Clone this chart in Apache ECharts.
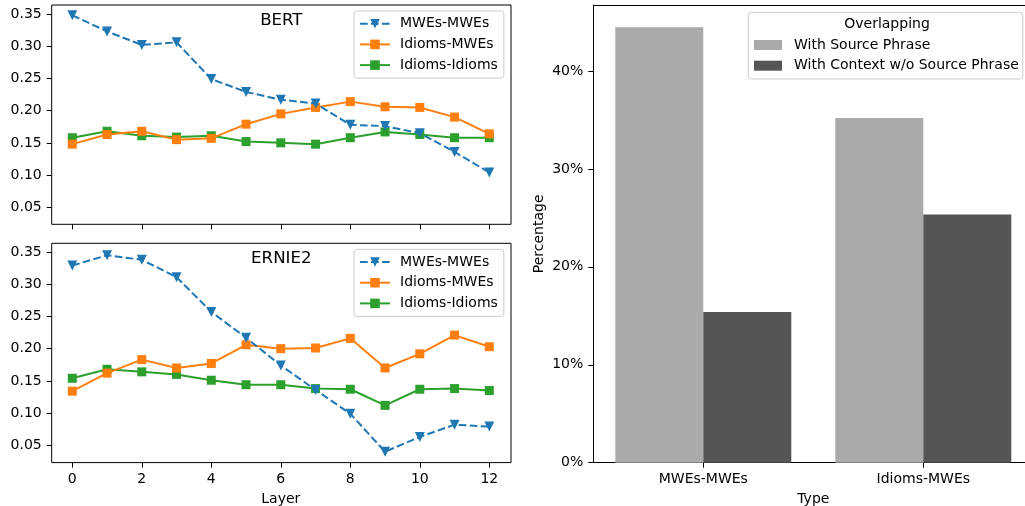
<!DOCTYPE html>
<html>
<head>
<meta charset="utf-8">
<script src="https://cdn.jsdelivr.net/npm/echarts@6/dist/echarts.min.js"></script>
<style>html,body{margin:0;padding:0;background:#fff;}#c{width:1025px;height:506px;}</style>
</head>
<body>
<div id="c"></div>
<script>
// ---- data ----
const layers = [0, 1, 2, 3, 4, 5, 6, 7, 8, 9, 10, 11, 12];
const seriesNames = ['MWEs-MWEs', 'Idioms-MWEs', 'Idioms-Idioms'];
const bertMweMwe     = [0.348, 0.323, 0.302, 0.306, 0.249, 0.229, 0.217, 0.211, 0.178, 0.176, 0.165, 0.136, 0.104];
const bertIdiomMwe   = [0.148, 0.163, 0.168, 0.155, 0.157, 0.179, 0.195, 0.205, 0.214, 0.206, 0.205, 0.190, 0.164];
const bertIdiomIdiom = [0.158, 0.168, 0.161, 0.159, 0.161, 0.152, 0.150, 0.148, 0.158, 0.167, 0.163, 0.158, 0.158];
const ernieMweMwe     = [0.329, 0.345, 0.338, 0.311, 0.257, 0.217, 0.174, 0.136, 0.099, 0.040, 0.063, 0.082, 0.079];
const ernieIdiomMwe   = [0.134, 0.162, 0.183, 0.170, 0.177, 0.206, 0.200, 0.201, 0.216, 0.170, 0.192, 0.221, 0.203];
const ernieIdiomIdiom = [0.154, 0.168, 0.164, 0.160, 0.151, 0.144, 0.144, 0.138, 0.137, 0.112, 0.137, 0.138, 0.135];
const layerTicks = [0, 2, 4, 6, 8, 10, 12];
const valueTicks = [0.05, 0.10, 0.15, 0.20, 0.25, 0.30, 0.35];

const types = ['MWEs-MWEs', 'Idioms-MWEs'];
const barNames = ['With Source Phrase', 'With Context w/o Source Phrase'];
const withSource = [0.4447, 0.352];
const withContext = [0.1539, 0.2535];
const pctTicks = [0, 0.1, 0.2, 0.3, 0.4];

// ---- styles ----
const FONT = 'DejaVu Sans';
const colors = ['#1f77b4', '#ff7f0e', '#2ca02c'];
const barColors = ['#aaaaaa', '#555555'];
const txt = { color: '#000', fontFamily: FONT, fontSize: 14 };
const tickStyle = { show: true, inside: false, length: 5, lineStyle: { color: '#000', width: 1 } };
const spine = { show: true, onZero: false, lineStyle: { color: '#000', width: 1 } };

function pairs(vals) { return layers.map((l, i) => [l, vals[i]]); }

function lineSeries(name, vals, idx, axisIdx) {
  const dashed = idx === 0;
  return {
    type: 'line', name: name, xAxisIndex: axisIdx, yAxisIndex: axisIdx,
    data: pairs(vals), clip: false,
    symbol: dashed ? 'triangle' : 'rect',
    symbolRotate: dashed ? 180 : 0,
    symbolSize: dashed ? 10 : 9,
    color: colors[idx],
    itemStyle: { color: colors[idx], opacity: 1 },
    lineStyle: { color: colors[idx], width: 2, type: dashed ? [7.7, 3.3] : 'solid' },
    emphasis: { disabled: true }, animation: false, z: 3 + (2 - idx)
  };
}

const G = (o) => Object.assign({ outerBoundsMode: 'none', containLabel: false, show: false }, o);
const hidden = (g) => ({ gridIndex: g, type: 'value', show: false, min: 0, max: 1 });
const xLayerHidden = (g) => ({ gridIndex: g, type: 'value', show: false, min: layerTicks[0], max: layerTicks[layerTicks.length - 1] });
const yValHidden = (g) => ({ gridIndex: g, type: 'value', show: false, min: valueTicks[0], max: valueTicks[valueTicks.length - 1] });

function xLabelAxis(g, showLabels) {
  return {
    gridIndex: g, type: 'value', min: layerTicks[0], max: layerTicks[layerTicks.length - 1], interval: 2,
    axisLine: { show: false }, axisTick: tickStyle,
    axisLabel: Object.assign({ show: showLabels, margin: 10 }, txt),
    splitLine: { show: false },
    name: showLabels ? 'Layer' : '', nameLocation: 'middle', nameGap: 29.5, nameTextStyle: txt
  };
}
function yLabelAxis(g) {
  return {
    gridIndex: g, type: 'value', min: valueTicks[0], max: valueTicks[valueTicks.length - 1], interval: 0.05,
    axisLine: { show: false }, axisTick: tickStyle,
    axisLabel: Object.assign({ margin: 10, formatter: v => v.toFixed(2) }, txt),
    splitLine: { show: false }
  };
}

function legendFor(top, names) {
  return {
    orient: 'vertical', left: 354, top: top,
    data: names,
    itemWidth: 30, itemHeight: 12, itemGap: 6.7,
    padding: [5.7, 6, 6, 5],
    backgroundColor: 'rgba(255,255,255,0.8)', borderColor: '#cccccc', borderWidth: 1, borderRadius: 3,
    textStyle: Object.assign({ lineHeight: 14, padding: [0, 0, 0, 5] }, txt),
    selectedMode: false
  };
}

const frame = { show: true, borderColor: '#000', borderWidth: 1, backgroundColor: 'transparent' };

// subplot geometry
const top1 = { frameTop: 5, dataTop: 14 };
const top2 = { frameTop: 243.3, dataTop: 252 };

function subGrids(s) {
  return [
    G(Object.assign({ left: 51.7, top: s.frameTop, width: 459.3, height: 219.3 }, frame)), // frame
    G({ left: 51.7, top: s.dataTop, width: 459.3, height: 193.3 }),                          // y labels
    G({ left: 72.3, top: s.frameTop, width: 417, height: 219.3 }),                           // x labels
    G({ left: 72.3, top: s.dataTop, width: 417, height: 193.3 })                             // data
  ];
}

const grids = [].concat(subGrids(top1), subGrids(top2), [
  G({ left: 593.3, top: 5, width: 440, height: 457.7 }),   // 8 right frame (spines via axis lines)
  G({ left: 593.3, top: 71, width: 440, height: 391.7 })   // 9 right data
]);

const xAxes = [
  hidden(0), hidden(1), xLabelAxis(2, false), xLayerHidden(3),
  hidden(4), hidden(5), xLabelAxis(6, true), xLayerHidden(7),
  { gridIndex: 8, type: 'value', min: 0, max: 1, position: 'bottom', axisLine: spine,
    axisTick: { show: false }, axisLabel: { show: false }, splitLine: { show: false } },
  {
    gridIndex: 9, type: 'category', data: types, boundaryGap: true,
    axisLine: { show: false },
    axisTick: Object.assign({ alignWithLabel: true }, tickStyle),
    axisLabel: Object.assign({ margin: 10 }, txt),
    name: 'Type', nameLocation: 'middle', nameGap: 29.5, nameTextStyle: txt
  },
  { gridIndex: 8, type: 'value', min: 0, max: 1, position: 'top', axisLine: spine,
    axisTick: { show: false }, axisLabel: { show: false }, splitLine: { show: false } }
];
const yAxes = [
  hidden(0), yLabelAxis(1), hidden(2), yValHidden(3),
  hidden(4), yLabelAxis(5), hidden(6), yValHidden(7),
  {
    gridIndex: 8, type: 'value', min: 0, max: 1, position: 'left',
    axisLine: spine, axisTick: { show: false }, axisLabel: { show: false }, splitLine: { show: false },
    name: 'Percentage', nameLocation: 'middle', nameGap: 47, nameTextStyle: txt
  },
  {
    gridIndex: 9, type: 'value', min: pctTicks[0], max: pctTicks[pctTicks.length - 1], interval: 0.1,
    axisLine: { show: false }, axisTick: tickStyle,
    axisLabel: Object.assign({ margin: 10, formatter: v => Math.round(v * 100) + '%' }, txt),
    splitLine: { show: false }
  }
];

const option = {
  animation: false,
  textStyle: { fontFamily: FONT },
  title: [
    { text: 'BERT', left: 281.3, top: 12.5, textAlign: 'center', padding: 0,
      textStyle: { color: '#000', fontFamily: FONT, fontSize: 16.6, fontWeight: 'normal' } },
    { text: 'ERNIE2', left: 281.3, top: 250, textAlign: 'center', padding: 0,
      textStyle: { color: '#000', fontFamily: FONT, fontSize: 16.6, fontWeight: 'normal' } },
    { text: 'Overlapping', left: 887, top: 17, textAlign: 'center', padding: 0, z: 10,
      textStyle: { color: '#000', fontFamily: FONT, fontSize: 14, fontWeight: 'normal' } }
  ],
  grid: grids,
  xAxis: xAxes,
  yAxis: yAxes,
  legend: [
    legendFor(11, seriesNames),
    legendFor(249.3, seriesNames),
    {
      orient: 'vertical', left: 748.3, top: 12.3,
      data: barNames.map(n => ({ name: n, icon: 'rect' })),
      itemWidth: 28, itemHeight: 10, itemGap: 6.7,
      padding: [25.7, 4, 6.3, 5.7],
      backgroundColor: 'rgba(255,255,255,0.8)', borderColor: '#cccccc', borderWidth: 1, borderRadius: 3,
      textStyle: Object.assign({ lineHeight: 14, padding: [0, 0, 0, 7] }, txt),
      selectedMode: false
    }
  ],
  series: [
    lineSeries(seriesNames[0], bertMweMwe, 0, 3),
    lineSeries(seriesNames[1], bertIdiomMwe, 1, 3),
    lineSeries(seriesNames[2], bertIdiomIdiom, 2, 3),
    lineSeries(seriesNames[0], ernieMweMwe, 0, 7),
    lineSeries(seriesNames[1], ernieIdiomMwe, 1, 7),
    lineSeries(seriesNames[2], ernieIdiomIdiom, 2, 7),
    {
      type: 'bar', name: barNames[0], xAxisIndex: 9, yAxisIndex: 9, data: withSource, clip: false,
      barWidth: '40%', barGap: '0%', itemStyle: { color: barColors[0] }, emphasis: { disabled: true }
    },
    {
      type: 'bar', name: barNames[1], xAxisIndex: 9, yAxisIndex: 9, data: withContext, clip: false,
      barWidth: '40%', barGap: '0%', itemStyle: { color: barColors[1] }, emphasis: { disabled: true }
    }
  ]
};

const chart = echarts.init(document.getElementById('c'), null, { renderer: 'canvas' });
chart.setOption(option);
</script>
</body>
</html>
